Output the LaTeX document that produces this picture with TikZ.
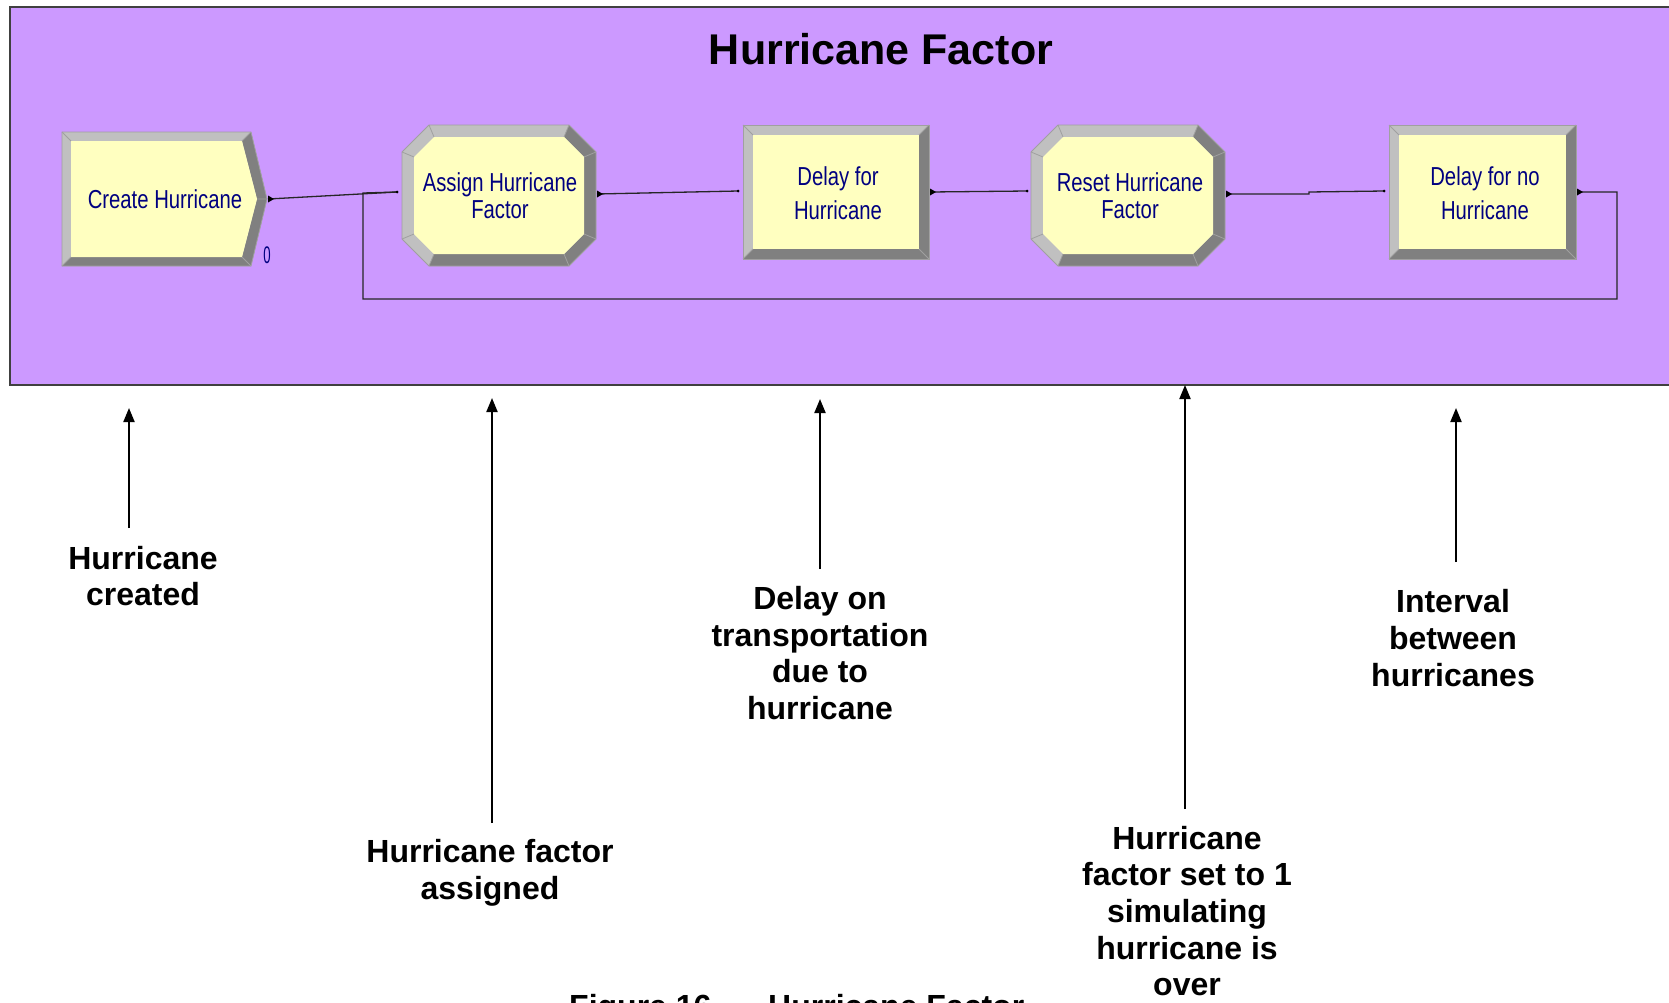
\documentclass[tikz,border=0pt]{standalone}
\usepackage{fontspec}
\setmainfont{Liberation Sans}
\newfontfamily\modfont[FakeStretch=0.78]{Liberation Sans}
\newfontfamily\narrowfont[FakeStretch=0.55]{Liberation Sans}
\usetikzlibrary{arrows.meta}

\definecolor{panel}{HTML}{CC99FF}
\definecolor{modfill}{HTML}{FFFFC0}
\definecolor{bevlight}{HTML}{C0C0C0}
\definecolor{bevdark}{HTML}{808080}
\definecolor{bevline}{HTML}{A0A0A0}
\definecolor{modtext}{HTML}{000080}

% bevelled rectangle module: x1 y1 x2 y2
\newcommand\rectmodule[4]{%
  \begin{scope}
    \def\bv{10}
    \coordinate (o1) at (#1,#2); \coordinate (o2) at (#3,#2);
    \coordinate (o3) at (#3,#4); \coordinate (o4) at (#1,#4);
    \coordinate (i1) at ({#1+\bv},{#2+\bv}); \coordinate (i2) at ({#3-\bv},{#2+\bv});
    \coordinate (i3) at ({#3-\bv},{#4-\bv}); \coordinate (i4) at ({#1+\bv},{#4-\bv});
    \fill[bevlight] (o1) -- (o2) -- (o3) -- (o4) -- cycle;
    \fill[bevdark] (o2) -- (o3) -- (o4) -- (i4) -- (i3) -- (i2) -- cycle;
    \fill[modfill] (i1) -- (i2) -- (i3) -- (i4) -- cycle;
    \draw[bevedge] (o1) -- (i1) (o2) -- (i2) (o3) -- (i3) (o4) -- (i4);
    \draw[bevedge] (o1) -- (o2) -- (o3) -- (o4) -- cycle;
  \end{scope}}

% bevelled octagon module: x1 y1 x2 y2
\newcommand\octmodule[4]{%
  \begin{scope}
    \def\ct{27}\def\bv{12}\def\ci{20}
    \coordinate (o1) at ({#1+\ct},#2); \coordinate (o2) at ({#3-\ct},#2);
    \coordinate (o3) at (#3,{#2+\ct}); \coordinate (o4) at (#3,{#4-\ct});
    \coordinate (o5) at ({#3-\ct},#4); \coordinate (o6) at ({#1+\ct},#4);
    \coordinate (o7) at (#1,{#4-\ct}); \coordinate (o8) at (#1,{#2+\ct});
    \coordinate (i1) at ({#1+\bv+\ci},{#2+\bv}); \coordinate (i2) at ({#3-\bv-\ci},{#2+\bv});
    \coordinate (i3) at ({#3-\bv},{#2+\bv+\ci}); \coordinate (i4) at ({#3-\bv},{#4-\bv-\ci});
    \coordinate (i5) at ({#3-\bv-\ci},{#4-\bv}); \coordinate (i6) at ({#1+\bv+\ci},{#4-\bv});
    \coordinate (i7) at ({#1+\bv},{#4-\bv-\ci}); \coordinate (i8) at ({#1+\bv},{#2+\bv+\ci});
    \fill[bevlight] (o1) -- (o2) -- (o3) -- (o4) -- (o5) -- (o6) -- (o7) -- (o8) -- cycle;
    \fill[bevdark] (o2) -- (o3) -- (o4) -- (o5) -- (o6) -- (i6) -- (i5) -- (i4) -- (i3) -- (i2) -- cycle;
    \fill[modfill] (i1) -- (i2) -- (i3) -- (i4) -- (i5) -- (i6) -- (i7) -- (i8) -- cycle;
    \draw[bevedge] (o1) -- (i1) (o2) -- (i2) (o3) -- (i3) (o4) -- (i4)
                   (o5) -- (i5) (o6) -- (i6) (o7) -- (i7) (o8) -- (i8);
    \draw[bevedge] (o1) -- (o2) -- (o3) -- (o4) -- (o5) -- (o6) -- (o7) -- (o8) -- cycle;
  \end{scope}}

\begin{document}
\begin{tikzpicture}[x=1pt,y=-1pt,
  bevedge/.style={draw=bevline,line width=0.8},
  modlabel/.style={text=modtext,align=center,inner sep=0pt,
    font=\modfont\fontsize{26}{27}\selectfont},
  delaylabel/.style={modlabel,font=\modfont\fontsize{26}{34}\selectfont},
  conn/.style={draw=black!85,line width=1.3},
  note/.style={align=center,inner sep=0pt,
    font=\bfseries\fontsize{32}{36.7}\selectfont},
  callout/.style={line width=2,-{Triangle[length=14,width=11]}}]

\useasboundingbox (0,0) rectangle (1669,1002);
\fill[white] (0,0) rectangle (1669,1002);

% model panel
\fill[panel] (10,7) rectangle (1690,385);
\draw[black!75,line width=1.2] (1690,7) -- (10,7) -- (10,385) -- (1690,385);
\node[font=\bfseries\fontsize{43}{50}\selectfont,inner sep=0pt] (title) at (881,49) {Hurricane Factor};

% Create module (arrow-shaped)
\begin{scope}
  \coordinate (c1) at (62,132); \coordinate (c2) at (251,132); \coordinate (c3) at (267,199);
  \coordinate (c4) at (251,266); \coordinate (c5) at (62,266);
  \coordinate (d1) at (71,141); \coordinate (d2) at (242,141); \coordinate (d3) at (257,199);
  \coordinate (d4) at (242,257); \coordinate (d5) at (71,257);
  \fill[bevlight] (c1) -- (c2) -- (c3) -- (c4) -- (c5) -- cycle;
  \fill[bevdark] (c2) -- (c3) -- (c4) -- (c5) -- (d5) -- (d4) -- (d3) -- (d2) -- cycle;
  \fill[modfill] (d1) -- (d2) -- (d3) -- (d4) -- (d5) -- cycle;
  \draw[bevedge] (c1) -- (d1) (c2) -- (d2) (c3) -- (d3) (c4) -- (d4) (c5) -- (d5);
  \draw[bevedge] (c1) -- (c2) -- (c3) -- (c4) -- (c5) -- cycle;
\end{scope}
\node[modlabel] (create) at (165,199) {Create Hurricane};
\node[text=modtext,inner sep=0pt,font=\narrowfont\fontsize{24}{24}\selectfont] (count) at (267,255) {0};

% other modules
\octmodule{402}{125}{596}{266}
\node[modlabel] (assign) at (500,196) {Assign Hurricane\\Factor};
\rectmodule{743}{125}{929}{259}
\node[delaylabel] (delayh) at (838,193) {Delay for\\Hurricane};
\octmodule{1031}{125}{1225}{266}
\node[modlabel] (reset) at (1130,196) {Reset Hurricane\\Factor};
\rectmodule{1389}{125}{1576}{259}
\node[delaylabel] (delayn) at (1485,193) {Delay for no\\Hurricane};

% exit and entry points
\coordinate (create-out) at (268,199);
\coordinate (assign-in) at (397,192);
\coordinate (assign-out) at (597,194);
\coordinate (delayh-in) at (738,191);
\coordinate (delayh-out) at (930,192);
\coordinate (reset-in) at (1027,191);
\coordinate (reset-out) at (1226,194);
\coordinate (delayn-in) at (1384,191);
\coordinate (delayn-out) at (1577,192);
\coordinate (join) at (363,193);
\coordinate (bendA) at (1309,194);
\coordinate (bendB) at (1309,192);
\coordinate (loopR) at (1617,192);
\coordinate (loopRB) at (1617,299);
\coordinate (loopLB) at (363,299);

% connectors
\draw[conn] (create-out) -- (assign-in);
\draw[conn] (assign-out) -- (delayh-in);
\draw[conn] (delayh-out) -- (reset-in);
\draw[conn] (reset-out) -- (bendA) -- (bendB) -- (delayn-in);
\draw[conn] (delayn-out) -- (loopR) -- (loopRB) -- (loopLB) -- (join) -- (assign-in);

\foreach \p in {create-out,assign-out,delayh-out,reset-out,delayn-out}
  \fill (\p) ++(0,-3.5) -- ++(6,3.5) -- ++(-6,3.5) -- cycle;
\foreach \p in {assign-in,delayh-in,reset-in,delayn-in}
  \fill (\p) circle (1.5);

% explanatory notes
\node[note] (n1) at (143,576) {Hurricane\\created};
\node[note] (n2) at (490,873) {Hurricane factor\\assigned};
\node[note] (n3) at (820,653) {Delay on\\transportation\\due to\\hurricane};
\node[note] (n4) at (1187,911) {Hurricane\\factor set to 1\\simulating\\hurricane is\\over};
\node[note] (n5) at (1453,638) {Interval\\between\\hurricanes};

\coordinate (a1s) at (129,528); \coordinate (a1e) at (129,408);
\coordinate (a2s) at (492,823); \coordinate (a2e) at (492,398);
\coordinate (a3s) at (820,569); \coordinate (a3e) at (820,399);
\coordinate (a4s) at (1185,809); \coordinate (a4e) at (1185,385);
\coordinate (a5s) at (1456,562); \coordinate (a5e) at (1456,408);
\draw[callout] (a1s) -- (a1e);
\draw[callout] (a2s) -- (a2e);
\draw[callout] (a3s) -- (a3e);
\draw[callout] (a4s) -- (a4e);
\draw[callout] (a5s) -- (a5e);

% caption along the lower edge
\node[anchor=base west,inner sep=0pt,font=\bfseries\fontsize{32}{36}\selectfont] (figno) at (569,1017) {Figure 16};
\node[anchor=base west,inner sep=0pt,font=\bfseries\fontsize{32}{36}\selectfont] (figname) at (768,1017) {Hurricane Factor};
\end{tikzpicture}
\end{document}
